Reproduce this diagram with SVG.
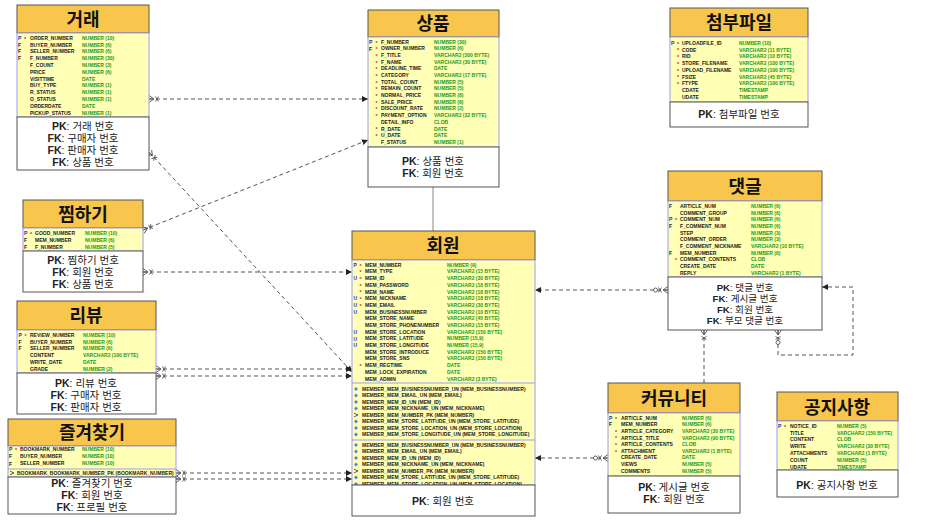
<svg xmlns="http://www.w3.org/2000/svg" width="951" height="528" viewBox="0 0 951 528">
<style>
.hd{fill:#F8C64C;stroke:#555;stroke-width:1}
.bd{fill:#FFFFB5;stroke:#9c9cf0;stroke-width:1}
.wb{fill:#fff;stroke:#555;stroke-width:1}
.tt{font-family:"Noto Sans CJK KR","Noto Sans",sans-serif;font-weight:700;font-size:18px;fill:#111;text-anchor:middle}
.kt{font-family:"Liberation Sans","Noto Sans CJK KR",sans-serif;font-size:10.5px;fill:#222;text-anchor:middle}
.ks{font-size:9.6px}
.kt tspan.b{font-weight:700}
.n{font-family:"Liberation Sans",Arial,sans-serif;font-weight:700;font-size:5px;fill:#222}
.ty{font-family:"Liberation Sans",Arial,sans-serif;font-weight:700;font-size:5px;fill:#1a9a1a}
.fl{font-family:"Liberation Sans",Arial,sans-serif;font-weight:700;font-size:5px;fill:#222}
.pf{fill:#2233cc}
.st{font-family:"Liberation Sans",Arial,sans-serif;font-weight:700;font-size:5.4px;fill:#e02020}
.sep{stroke:#9c9cf0;stroke-width:1}
.c{fill:none;stroke:#555;stroke-width:1;stroke-dasharray:4 3}
</style>
<defs>
<marker id="arr" markerWidth="7" markerHeight="7" refX="6" refY="3.5" orient="auto" markerUnits="userSpaceOnUse"><path d="M0,0.5 L6,3.5 L0,6.5z" fill="#222"/></marker>
<marker id="crow" markerWidth="12" markerHeight="10" refX="0" refY="5" orient="auto" markerUnits="userSpaceOnUse"><path d="M0,1.5 L5,5 L0,8.5 M0,5 H5 M6.5,2.5 L9.5,7.5 M9.5,2.5 L6.5,7.5" fill="none" stroke="#555" stroke-width="0.9"/></marker>
<marker id="crowo" markerWidth="16" markerHeight="10" refX="0" refY="5" orient="auto" markerUnits="userSpaceOnUse"><path d="M0,1.5 L5,5 L0,8.5 M0,5 H5 M6.5,2.5 L9.5,7.5 M9.5,2.5 L6.5,7.5" fill="none" stroke="#555" stroke-width="0.9"/><circle cx="12.5" cy="5" r="2" fill="#fff" stroke="#555" stroke-width="0.9"/></marker>
<path id="ui" d="M0,-2 L2,0 L0,2 L-2,0z" fill="#4a88e0"/>
<path id="pki" d="M-2,-1.8 L2,0 L-2,1.8" fill="none" stroke="#333" stroke-width="0.8"/>
</defs>

<g id="connectors">
<path class="c" d="M149,99 H368" marker-start="url(#crow)" marker-end="url(#arr)"/>
<path class="c" d="M149,152 L352,372" marker-start="url(#crow)" marker-end="url(#arr)"/>
<path class="c" d="M143,230 L368,140" marker-start="url(#crow)" marker-end="url(#arr)"/>
<path class="c" d="M143,272 H352" marker-start="url(#crow)" marker-end="url(#arr)"/>
<path class="c" d="M156,369 H352" marker-start="url(#crow)" marker-end="url(#arr)"/>
<path class="c" d="M156,376 H352" marker-start="url(#crow)" marker-end="url(#arr)"/>
<path class="c" d="M176,473 H352" marker-start="url(#crow)" marker-end="url(#arr)"/>
<path class="c" d="M176,479 H352" marker-start="url(#crow)" marker-end="url(#arr)"/>
<path d="M433,187 V231" fill="none" stroke="#888" stroke-width="1"/>
<path class="c" d="M668,290 H535" marker-start="url(#crowo)" marker-end="url(#arr)"/>
<path class="c" d="M704,330 V383" marker-start="url(#crow)"/>
<path class="c" d="M778,330 V355 H853 V287 H822" marker-start="url(#crowo)" marker-end="url(#arr)"/>
<path class="c" d="M608,458 H535" marker-start="url(#crowo)" marker-end="url(#arr)"/>
</g>

<g id="t-trade">
<rect class="hd" x="17" y="5" width="132" height="28"/>
<rect class="bd" x="17" y="33" width="132" height="84"/>
<rect class="wb" x="17" y="117" width="132" height="53"/>
<text class="tt" x="83" y="26">거래</text>
<text class="fl"><tspan class="pf" x="18" y="39.8">P</tspan><tspan x="18" y="46.6">F</tspan><tspan x="18" y="53.4">F</tspan><tspan x="18" y="60.2">F</tspan></text>
<text class="st" x="24" y="40.5">*</text>
<text class="n" x="30" y="39.8"><tspan x="30">ORDER_NUMBER</tspan><tspan x="30" dy="6.8">BUYER_NUMBER</tspan><tspan x="30" dy="6.8">SELLER_NUMBER</tspan><tspan x="30" dy="6.8">F_NUMBER</tspan><tspan x="30" dy="6.8">F_COUNT</tspan><tspan x="30" dy="6.8">PRICE</tspan><tspan x="30" dy="6.8">VISITTIME</tspan><tspan x="30" dy="6.8">BUY_TYPE</tspan><tspan x="30" dy="6.8">R_STATUS</tspan><tspan x="30" dy="6.8">O_STATUS</tspan><tspan x="30" dy="6.8">ORDERDATE</tspan><tspan x="30" dy="6.8">PICKUP_STATUS</tspan></text>
<text class="ty" x="82" y="39.8"><tspan x="82">NUMBER (10)</tspan><tspan x="82" dy="6.8">NUMBER (6)</tspan><tspan x="82" dy="6.8">NUMBER (6)</tspan><tspan x="82" dy="6.8">NUMBER (30)</tspan><tspan x="82" dy="6.8">NUMBER (3)</tspan><tspan x="82" dy="6.8">NUMBER (6)</tspan><tspan x="82" dy="6.8">DATE</tspan><tspan x="82" dy="6.8">NUMBER (1)</tspan><tspan x="82" dy="6.8">NUMBER (1)</tspan><tspan x="82" dy="6.8">NUMBER (1)</tspan><tspan x="82" dy="6.8">DATE</tspan><tspan x="82" dy="6.8">NUMBER (1)</tspan></text>
<text class="kt"><tspan x="83" y="130"><tspan class="b">PK</tspan>: 거래 번호</tspan><tspan x="83" y="142"><tspan class="b">FK</tspan>: 구매자 번호</tspan><tspan x="83" y="154"><tspan class="b">FK</tspan>: 판매자 번호</tspan><tspan x="83" y="166"><tspan class="b">FK</tspan>: 상품 번호</tspan></text>
</g>

<g id="t-product">
<rect class="hd" x="368" y="10" width="131" height="27"/>
<rect class="bd" x="368" y="37" width="131" height="110"/>
<rect class="wb" x="368" y="147" width="131" height="40"/>
<text class="tt" x="433" y="30">상품</text>
<text class="fl"><tspan class="pf" x="369" y="43.8">P</tspan><tspan x="369" y="50.5">F</tspan></text>
<text class="st"><tspan x="375.5" y="44.5">*</tspan><tspan x="375.5" y="51.2">*</tspan><tspan x="375.5" y="57.8">*</tspan><tspan x="375.5" y="64.5">*</tspan><tspan x="375.5" y="71.2">*</tspan><tspan x="375.5" y="77.8">*</tspan><tspan x="375.5" y="84.5">*</tspan><tspan x="375.5" y="91.2">*</tspan><tspan x="375.5" y="97.8">*</tspan><tspan x="375.5" y="104.5">*</tspan><tspan x="375.5" y="111.2">*</tspan><tspan x="375.5" y="117.8">*</tspan><tspan x="375.5" y="131.2">*</tspan><tspan x="375.5" y="137.8">*</tspan></text>
<text class="n" x="381" y="43.8"><tspan x="381">F_NUMBER</tspan><tspan x="381" dy="6.67">OWNER_NUMBER</tspan><tspan x="381" dy="6.67">F_TITLE</tspan><tspan x="381" dy="6.67">F_NAME</tspan><tspan x="381" dy="6.67">DEADLINE_TIME</tspan><tspan x="381" dy="6.67">CATEGORY</tspan><tspan x="381" dy="6.67">TOTAL_COUNT</tspan><tspan x="381" dy="6.67">REMAIN_COUNT</tspan><tspan x="381" dy="6.67">NORMAL_PRICE</tspan><tspan x="381" dy="6.67">SALE_PRICE</tspan><tspan x="381" dy="6.67">DISCOUNT_RATE</tspan><tspan x="381" dy="6.67">PAYMENT_OPTION</tspan><tspan x="381" dy="6.67">DETAIL_INFO</tspan><tspan x="381" dy="6.67">R_DATE</tspan><tspan x="381" dy="6.67">U_DATE</tspan><tspan x="381" dy="6.67">F_STATUS</tspan></text>
<text class="ty" x="434" y="43.8"><tspan x="434">NUMBER (30)</tspan><tspan x="434" dy="6.67">NUMBER (6)</tspan><tspan x="434" dy="6.67">VARCHAR2 (300 BYTE)</tspan><tspan x="434" dy="6.67">VARCHAR2 (30 BYTE)</tspan><tspan x="434" dy="6.67">DATE</tspan><tspan x="434" dy="6.67">VARCHAR2 (17 BYTE)</tspan><tspan x="434" dy="6.67">NUMBER (5)</tspan><tspan x="434" dy="6.67">NUMBER (5)</tspan><tspan x="434" dy="6.67">NUMBER (8)</tspan><tspan x="434" dy="6.67">NUMBER (8)</tspan><tspan x="434" dy="6.67">NUMBER (2)</tspan><tspan x="434" dy="6.67">VARCHAR2 (32 BYTE)</tspan><tspan x="434" dy="6.67">CLOB</tspan><tspan x="434" dy="6.67">DATE</tspan><tspan x="434" dy="6.67">DATE</tspan><tspan x="434" dy="6.67">NUMBER (1)</tspan></text>
<text class="kt"><tspan x="433" y="165"><tspan class="b">PK</tspan>: 상품 번호</tspan><tspan x="433" y="177"><tspan class="b">FK</tspan>: 회원 번호</tspan></text>
</g>

<g id="t-file">
<rect class="hd" x="670" y="8" width="138" height="29"/>
<rect class="bd" x="670" y="37" width="138" height="65"/>
<rect class="wb" x="670" y="102" width="138" height="25"/>
<text class="tt" x="739" y="29">첨부파일</text>
<text class="fl"><tspan class="pf" x="671" y="44.8">P</tspan></text>
<text class="st"><tspan x="677" y="45.5">*</tspan><tspan x="677" y="52.2">*</tspan><tspan x="677" y="59">*</tspan><tspan x="677" y="65.7">*</tspan><tspan x="677" y="72.5">*</tspan><tspan x="677" y="79.2">*</tspan><tspan x="677" y="86">*</tspan></text>
<text class="n" x="682" y="44.8"><tspan x="682">UPLOADFILE_ID</tspan><tspan x="682" dy="6.75">CODE</tspan><tspan x="682" dy="6.75">RID</tspan><tspan x="682" dy="6.75">STORE_FILENAME</tspan><tspan x="682" dy="6.75">UPLOAD_FILENAME</tspan><tspan x="682" dy="6.75">FSIZE</tspan><tspan x="682" dy="6.75">FTYPE</tspan><tspan x="682" dy="6.75">CDATE</tspan><tspan x="682" dy="6.75">UDATE</tspan></text>
<text class="ty" x="739" y="44.8"><tspan x="739">NUMBER (10)</tspan><tspan x="739" dy="6.75">VARCHAR2 (11 BYTE)</tspan><tspan x="739" dy="6.75">VARCHAR2 (10 BYTE)</tspan><tspan x="739" dy="6.75">VARCHAR2 (100 BYTE)</tspan><tspan x="739" dy="6.75">VARCHAR2 (100 BYTE)</tspan><tspan x="739" dy="6.75">VARCHAR2 (45 BYTE)</tspan><tspan x="739" dy="6.75">VARCHAR2 (100 BYTE)</tspan><tspan x="739" dy="6.75">TIMESTAMP</tspan><tspan x="739" dy="6.75">TIMESTAMP</tspan></text>
<text class="kt" x="739" y="118"><tspan class="b">PK</tspan>: 첨부파일 번호</text>
</g>

<g id="t-comment">
<rect class="hd" x="668" y="171" width="154" height="30"/>
<rect class="bd" x="668" y="201" width="154" height="76"/>
<rect class="wb" x="668" y="277" width="154" height="53"/>
<text class="tt" x="745" y="193">댓글</text>
<text class="fl"><tspan x="669" y="207.8">F</tspan><tspan class="pf" x="669" y="221.2">P</tspan><tspan x="669" y="227.9">F</tspan><tspan x="669" y="254.7">F</tspan></text>
<text class="st"><tspan x="675" y="221.9">*</tspan><tspan x="675" y="262.1">*</tspan></text>
<text class="n" x="680" y="207.8"><tspan x="680">ARTICLE_NUM</tspan><tspan x="680" dy="6.7">COMMENT_GROUP</tspan><tspan x="680" dy="6.7">COMMENT_NUM</tspan><tspan x="680" dy="6.7">F_COMMENT_NUM</tspan><tspan x="680" dy="6.7">STEP</tspan><tspan x="680" dy="6.7">COMMENT_ORDER</tspan><tspan x="680" dy="6.7">F_COMMENT_NICKNAME</tspan><tspan x="680" dy="6.7">MEM_NUMBER</tspan><tspan x="680" dy="6.7">COMMENT_CONTENTS</tspan><tspan x="680" dy="6.7">CREATE_DATE</tspan><tspan x="680" dy="6.7">REPLY</tspan></text>
<text class="ty" x="751" y="207.8"><tspan x="751">NUMBER (6)</tspan><tspan x="751" dy="6.7">NUMBER (6)</tspan><tspan x="751" dy="6.7">NUMBER (6)</tspan><tspan x="751" dy="6.7">NUMBER (6)</tspan><tspan x="751" dy="6.7">NUMBER (3)</tspan><tspan x="751" dy="6.7">NUMBER (3)</tspan><tspan x="751" dy="6.7">VARCHAR2 (10 BYTE)</tspan><tspan x="751" dy="6.7">NUMBER (6)</tspan><tspan x="751" dy="6.7">CLOB</tspan><tspan x="751" dy="6.7">DATE</tspan><tspan x="751" dy="6.7">VARCHAR2 (1 BYTE)</tspan></text>
<text class="kt ks"><tspan x="745" y="290.5"><tspan class="b">PK</tspan>: 댓글 번호</tspan><tspan x="745" y="301.8"><tspan class="b">FK</tspan>: 게시글 번호</tspan><tspan x="745" y="313.1"><tspan class="b">FK</tspan>: 회원 번호</tspan><tspan x="745" y="324.4"><tspan class="b">FK</tspan>: 부모 댓글 번호</tspan></text>
</g>

<g id="t-member">
<rect class="hd" x="352" y="231" width="183" height="29"/>
<rect class="bd" x="352" y="260" width="183" height="225"/>
<text class="tt" x="443" y="252">회원</text>
<text class="fl"><tspan class="pf" x="353.5" y="266.8">P</tspan><tspan class="pf" x="353.5" y="280.2">U</tspan><tspan class="pf" x="353.5" y="300.3">U</tspan><tspan class="pf" x="353.5" y="307">U</tspan><tspan class="pf" x="353.5" y="313.7">U</tspan><tspan class="pf" x="353.5" y="333.8">U</tspan><tspan class="pf" x="353.5" y="340.5">U</tspan><tspan class="pf" x="353.5" y="347.2">U</tspan></text>
<text class="st"><tspan x="359.5" y="267.5">*</tspan><tspan x="359.5" y="274.2">*</tspan><tspan x="359.5" y="280.9">*</tspan><tspan x="359.5" y="287.6">*</tspan><tspan x="359.5" y="294.3">*</tspan><tspan x="359.5" y="301">*</tspan><tspan x="359.5" y="307.7">*</tspan><tspan x="359.5" y="367.9">*</tspan></text>
<text class="n" x="365" y="266.8"><tspan x="365">MEM_NUMBER</tspan><tspan x="365" dy="6.69">MEM_TYPE</tspan><tspan x="365" dy="6.69">MEM_ID</tspan><tspan x="365" dy="6.69">MEM_PASSWORD</tspan><tspan x="365" dy="6.69">MEM_NAME</tspan><tspan x="365" dy="6.69">MEM_NICKNAME</tspan><tspan x="365" dy="6.69">MEM_EMAIL</tspan><tspan x="365" dy="6.69">MEM_BUSINESSNUMBER</tspan><tspan x="365" dy="6.69">MEM_STORE_NAME</tspan><tspan x="365" dy="6.69">MEM_STORE_PHONENUMBER</tspan><tspan x="365" dy="6.69">MEM_STORE_LOCATION</tspan><tspan x="365" dy="6.69">MEM_STORE_LATITUDE</tspan><tspan x="365" dy="6.69">MEM_STORE_LONGITUDE</tspan><tspan x="365" dy="6.69">MEM_STORE_INTRODUCE</tspan><tspan x="365" dy="6.69">MEM_STORE_SNS</tspan><tspan x="365" dy="6.69">MEM_REGTIME</tspan><tspan x="365" dy="6.69">MEM_LOCK_EXPIRATION</tspan><tspan x="365" dy="6.69">MEM_ADMIN</tspan></text>
<text class="ty" x="447" y="266.8"><tspan x="447">NUMBER (9)</tspan><tspan x="447" dy="6.69">VARCHAR2 (15 BYTE)</tspan><tspan x="447" dy="6.69">VARCHAR2 (30 BYTE)</tspan><tspan x="447" dy="6.69">VARCHAR2 (18 BYTE)</tspan><tspan x="447" dy="6.69">VARCHAR2 (18 BYTE)</tspan><tspan x="447" dy="6.69">VARCHAR2 (18 BYTE)</tspan><tspan x="447" dy="6.69">VARCHAR2 (30 BYTE)</tspan><tspan x="447" dy="6.69">VARCHAR2 (10 BYTE)</tspan><tspan x="447" dy="6.69">VARCHAR2 (45 BYTE)</tspan><tspan x="447" dy="6.69">VARCHAR2 (15 BYTE)</tspan><tspan x="447" dy="6.69">VARCHAR2 (150 BYTE)</tspan><tspan x="447" dy="6.69">NUMBER (15,9)</tspan><tspan x="447" dy="6.69">NUMBER (15,9)</tspan><tspan x="447" dy="6.69">VARCHAR2 (150 BYTE)</tspan><tspan x="447" dy="6.69">VARCHAR2 (150 BYTE)</tspan><tspan x="447" dy="6.69">DATE</tspan><tspan x="447" dy="6.69">DATE</tspan><tspan x="447" dy="6.69">VARCHAR2 (3 BYTE)</tspan></text>
<line class="sep" x1="352" y1="383" x2="535" y2="383"/>
<use href="#ui" x="356" y="389"/><use href="#ui" x="356" y="395.5"/><use href="#ui" x="356" y="402"/><use href="#ui" x="356" y="408.5"/><use href="#pki" x="356" y="415"/><use href="#ui" x="356" y="421.5"/><use href="#ui" x="356" y="428"/><use href="#ui" x="356" y="434.5"/>
<text class="n" x="362" y="390.7"><tspan x="362">MEMBER_MEM_BUSINESSNUMBER_UN (MEM_BUSINESSNUMBER)</tspan><tspan x="362" dy="6.5">MEMBER_MEM_EMAIL_UN (MEM_EMAIL)</tspan><tspan x="362" dy="6.5">MEMBER_MEM_ID_UN (MEM_ID)</tspan><tspan x="362" dy="6.5">MEMBER_MEM_NICKNAME_UN (MEM_NICKNAME)</tspan><tspan x="362" dy="6.5">MEMBER_MEM_NUMBER_PK (MEM_NUMBER)</tspan><tspan x="362" dy="6.5">MEMBER_MEM_STORE_LATITUDE_UN (MEM_STORE_LATITUDE)</tspan><tspan x="362" dy="6.5">MEMBER_MEM_STORE_LOCATION_UN (MEM_STORE_LOCATION)</tspan><tspan x="362" dy="6.5">MEMBER_MEM_STORE_LONGITUDE_UN (MEM_STORE_LONGITUDE)</tspan></text>
<line class="sep" x1="352" y1="440" x2="535" y2="440"/>
<use href="#ui" x="356" y="445"/><use href="#ui" x="356" y="451.5"/><use href="#ui" x="356" y="458"/><use href="#ui" x="356" y="464.5"/><use href="#pki" x="356" y="471"/><use href="#ui" x="356" y="477.5"/><use href="#ui" x="356" y="484"/>
<text class="n" x="362" y="446.7"><tspan x="362">MEMBER_MEM_BUSINESSNUMBER_UN (MEM_BUSINESSNUMBER)</tspan><tspan x="362" dy="6.5">MEMBER_MEM_EMAIL_UN (MEM_EMAIL)</tspan><tspan x="362" dy="6.5">MEMBER_MEM_ID_UN (MEM_ID)</tspan><tspan x="362" dy="6.5">MEMBER_MEM_NICKNAME_UN (MEM_NICKNAME)</tspan><tspan x="362" dy="6.5">MEMBER_MEM_NUMBER_PK (MEM_NUMBER)</tspan><tspan x="362" dy="6.5">MEMBER_MEM_STORE_LATITUDE_UN (MEM_STORE_LATITUDE)</tspan><tspan x="362" dy="6.5">MEMBER_MEM_STORE_LOCATION_UN (MEM_STORE_LOCATION)</tspan></text>
<rect class="wb" x="352" y="485" width="183" height="31"/>
<text class="kt" x="443" y="505"><tspan class="b">PK</tspan>: 회원 번호</text>
</g>

<g id="t-wish">
<rect class="hd" x="23" y="200" width="120" height="28"/>
<rect class="bd" x="23" y="228" width="120" height="23"/>
<rect class="wb" x="23" y="251" width="120" height="41"/>
<text class="tt" x="83" y="221">찜하기</text>
<text class="fl"><tspan class="pf" x="24" y="234.8">P</tspan><tspan x="24" y="241.8">F</tspan><tspan x="24" y="248.8">F</tspan></text>
<text class="st" x="30" y="235.5">*</text>
<text class="n" x="35" y="234.8"><tspan x="35">GOOD_NUMBER</tspan><tspan x="35" dy="7">MEM_NUMBER</tspan><tspan x="35" dy="7">F_NUMBER</tspan></text>
<text class="ty" x="85" y="234.8"><tspan x="85">NUMBER (10)</tspan><tspan x="85" dy="7">NUMBER (6)</tspan><tspan x="85" dy="7">NUMBER (5)</tspan></text>
<text class="kt"><tspan x="83" y="264"><tspan class="b">PK</tspan>: 찜하기 번호</tspan><tspan x="83" y="276"><tspan class="b">FK</tspan>: 회원 번호</tspan><tspan x="83" y="288"><tspan class="b">FK</tspan>: 상품 번호</tspan></text>
</g>

<g id="t-review">
<rect class="hd" x="17" y="301" width="139" height="29"/>
<rect class="bd" x="17" y="330" width="139" height="43"/>
<rect class="wb" x="17" y="373" width="139" height="41"/>
<text class="tt" x="86" y="322">리뷰</text>
<text class="fl"><tspan class="pf" x="18.5" y="336.8">P</tspan><tspan x="18.5" y="343.6">F</tspan><tspan x="18.5" y="350.4">F</tspan></text>
<text class="st" x="24.5" y="337.5">*</text>
<text class="n" x="30" y="336.8"><tspan x="30">REVIEW_NUMBER</tspan><tspan x="30" dy="6.8">BUYER_NUMBER</tspan><tspan x="30" dy="6.8">SELLER_NUMBER</tspan><tspan x="30" dy="6.8">CONTENT</tspan><tspan x="30" dy="6.8">WRITE_DATE</tspan><tspan x="30" dy="6.8">GRADE</tspan></text>
<text class="ty" x="83" y="336.8"><tspan x="83">NUMBER (10)</tspan><tspan x="83" dy="6.8">NUMBER (6)</tspan><tspan x="83" dy="6.8">NUMBER (6)</tspan><tspan x="83" dy="6.8">VARCHAR2 (100 BYTE)</tspan><tspan x="83" dy="6.8">DATE</tspan><tspan x="83" dy="6.8">NUMBER (2)</tspan></text>
<text class="kt"><tspan x="86" y="387"><tspan class="b">PK</tspan>: 리뷰 번호</tspan><tspan x="86" y="399"><tspan class="b">FK</tspan>: 구매자 번호</tspan><tspan x="86" y="411"><tspan class="b">FK</tspan>: 판매자 번호</tspan></text>
</g>

<g id="t-bookmark">
<rect class="hd" x="8" y="419" width="168" height="27"/>
<rect class="bd" x="8" y="446" width="168" height="31"/>
<text class="tt" x="92" y="439">즐겨찾기</text>
<text class="fl"><tspan class="pf" x="9" y="450.8">P</tspan><tspan x="9" y="458">F</tspan><tspan x="9" y="465.6">F</tspan></text>
<text class="st" x="15" y="451.5">*</text>
<text class="n" x="20" y="450.8"><tspan x="20">BOOKMARK_NUMBER</tspan><tspan x="20" dy="7.3">BUYER_NUMBER</tspan><tspan x="20" dy="7.3">SELLER_NUMBER</tspan></text>
<text class="ty" x="82" y="450.8"><tspan x="82">NUMBER (10)</tspan><tspan x="82" dy="7.3">NUMBER (10)</tspan><tspan x="82" dy="7.3">NUMBER (10)</tspan></text>
<line class="sep" x1="8" y1="469" x2="176" y2="469"/>
<use href="#pki" x="12" y="473"/>
<text class="n" x="17" y="474.8">BOOKMARK_BOOKMARK_NUMBER_PK (BOOKMARK_NUMBER)</text>
<rect class="wb" x="8" y="477" width="168" height="37"/>
<text class="kt"><tspan x="92" y="487"><tspan class="b">PK</tspan>: 즐겨찾기 번호</tspan><tspan x="92" y="499"><tspan class="b">FK</tspan>: 회원 번호</tspan><tspan x="92" y="511"><tspan class="b">FK</tspan>: 프로필 번호</tspan></text>
</g>

<g id="t-community">
<rect class="hd" x="608" y="383" width="132" height="30"/>
<rect class="bd" x="608" y="413" width="132" height="63"/>
<rect class="wb" x="608" y="476" width="132" height="37"/>
<text class="tt" x="674" y="405">커뮤니티</text>
<text class="fl"><tspan class="pf" x="609" y="419.8">P</tspan><tspan x="609" y="426.4">F</tspan></text>
<text class="st"><tspan x="615" y="420.5">*</tspan><tspan x="615" y="433.7">*</tspan><tspan x="615" y="440.3">*</tspan><tspan x="615" y="446.9">*</tspan><tspan x="615" y="453.5">*</tspan></text>
<text class="n" x="621" y="419.8"><tspan x="621">ARTICLE_NUM</tspan><tspan x="621" dy="6.6">MEM_NUMBER</tspan><tspan x="621" dy="6.6">ARTICLE_CATEGORY</tspan><tspan x="621" dy="6.6">ARTICLE_TITLE</tspan><tspan x="621" dy="6.6">ARTICLE_CONTENTS</tspan><tspan x="621" dy="6.6">ATTACHMENT</tspan><tspan x="621" dy="6.6">CREATE_DATE</tspan><tspan x="621" dy="6.6">VIEWS</tspan><tspan x="621" dy="6.6">COMMENTS</tspan></text>
<text class="ty" x="682" y="419.8"><tspan x="682">NUMBER (6)</tspan><tspan x="682" dy="6.6">NUMBER (6)</tspan><tspan x="682" dy="6.6">VARCHAR2 (30 BYTE)</tspan><tspan x="682" dy="6.6">VARCHAR2 (90 BYTE)</tspan><tspan x="682" dy="6.6">CLOB</tspan><tspan x="682" dy="6.6">VARCHAR2 (1 BYTE)</tspan><tspan x="682" dy="6.6">DATE</tspan><tspan x="682" dy="6.6">NUMBER (5)</tspan><tspan x="682" dy="6.6">NUMBER (5)</tspan></text>
<text class="kt"><tspan x="674" y="491"><tspan class="b">PK</tspan>: 게시글 번호</tspan><tspan x="674" y="503"><tspan class="b">FK</tspan>: 회원 번호</tspan></text>
</g>

<g id="t-notice">
<rect class="hd" x="777" y="392" width="121" height="29"/>
<rect class="bd" x="777" y="421" width="121" height="49"/>
<rect class="wb" x="777" y="470" width="121" height="27"/>
<text class="tt" x="837" y="414">공지사항</text>
<text class="fl"><tspan class="pf" x="778" y="427.8">P</tspan></text>
<text class="st" x="784" y="428.5">*</text>
<text class="n" x="790" y="427.8"><tspan x="790">NOTICE_ID</tspan><tspan x="790" dy="6.8">TITLE</tspan><tspan x="790" dy="6.8">CONTENT</tspan><tspan x="790" dy="6.8">WRITE</tspan><tspan x="790" dy="6.8">ATTACHMENTS</tspan><tspan x="790" dy="6.8">COUNT</tspan><tspan x="790" dy="6.8">UDATE</tspan></text>
<text class="ty" x="837" y="427.8"><tspan x="837">NUMBER (5)</tspan><tspan x="837" dy="6.8">VARCHAR2 (150 BYTE)</tspan><tspan x="837" dy="6.8">CLOB</tspan><tspan x="837" dy="6.8">VARCHAR2 (30 BYTE)</tspan><tspan x="837" dy="6.8">VARCHAR2 (1 BYTE)</tspan><tspan x="837" dy="6.8">NUMBER (5)</tspan><tspan x="837" dy="6.8">TIMESTAMP</tspan></text>
<text class="kt" x="837" y="489"><tspan class="b">PK</tspan>: 공지사항 번호</text>
</g>
</svg>
